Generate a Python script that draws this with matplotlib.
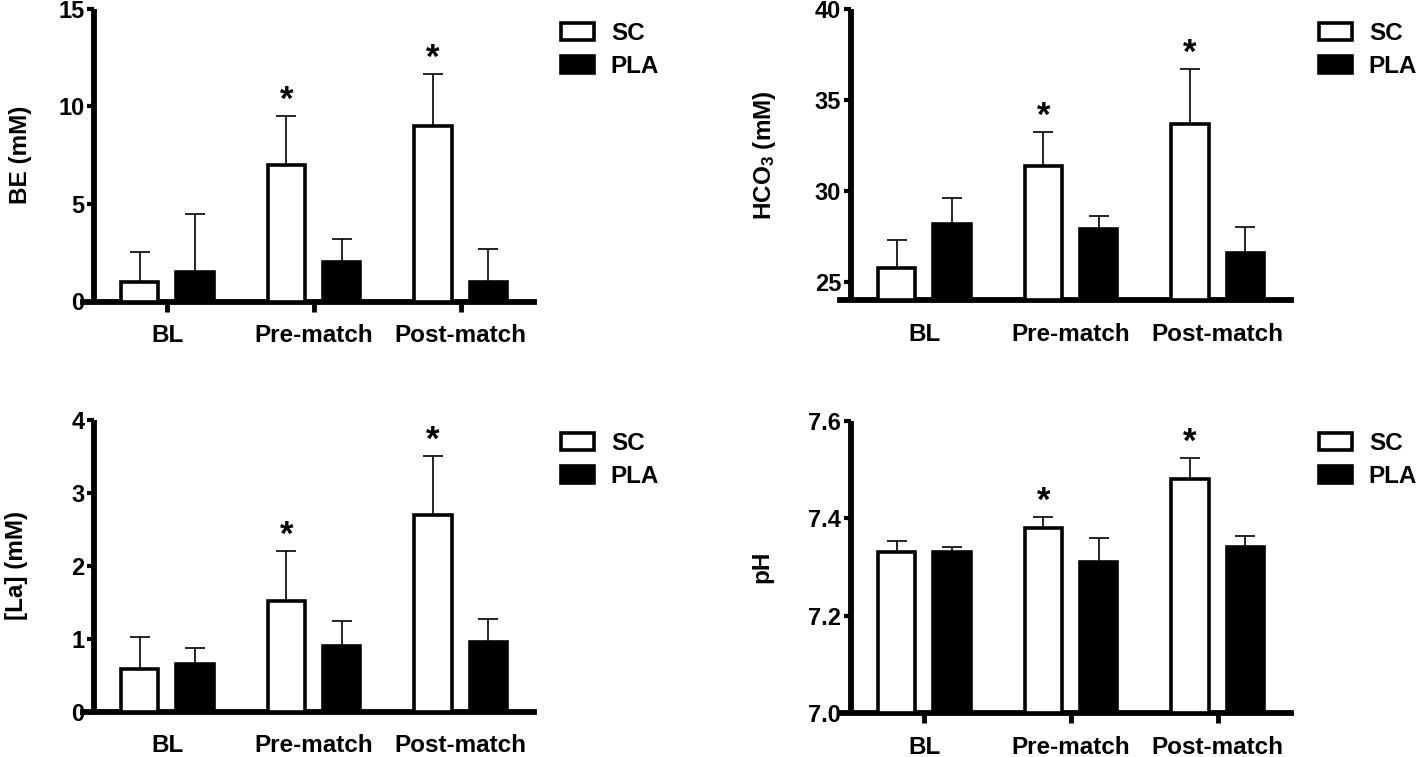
import matplotlib
matplotlib.use("Agg")
import matplotlib.pyplot as plt
import numpy as np

plt.rcParams['font.family'] = ['Liberation Sans', 'DejaVu Sans']
plt.rcParams['font.weight'] = 'bold'
plt.rcParams['mathtext.fontset'] = 'custom'
plt.rcParams['mathtext.rm'] = 'Liberation Sans:bold'
plt.rcParams['mathtext.it'] = 'Liberation Sans:bold'
plt.rcParams['mathtext.bf'] = 'Liberation Sans:bold'
plt.rcParams['mathtext.default'] = 'rm'

categories = ["BL", "Pre-match", "Post-match"]
series_names = ["SC", "PLA"]

# BE (mM)
be_sc = [1.0, 7.0, 9.0]
be_sc_err = [1.55, 2.5, 2.65]
be_pla = [1.5, 2.0, 1.0]
be_pla_err = [3.0, 1.2, 1.7]
be_sig = [False, True, True]

# HCO3 (mM)
hco3_sc = [25.8, 31.4, 33.7]
hco3_sc_err = [1.5, 1.85, 3.0]
hco3_pla = [28.2, 27.9, 26.6]
hco3_pla_err = [1.4, 0.75, 1.45]
hco3_sig = [False, True, True]

# [La] (mM)
la_sc = [0.59, 1.52, 2.7]
la_sc_err = [0.44, 0.68, 0.81]
la_pla = [0.66, 0.9, 0.96]
la_pla_err = [0.22, 0.35, 0.31]
la_sig = [False, True, True]

# pH
ph_sc = [7.33, 7.38, 7.48]
ph_sc_err = [0.023, 0.022, 0.043]
ph_pla = [7.33, 7.31, 7.34]
ph_pla_err = [0.01, 0.05, 0.024]
ph_sig = [False, True, True]

W, H = 1418, 757
fig = plt.figure(figsize=(W / 100, H / 100), dpi=100)

FS = 17.5
TFS = 17
SPINE_LW = 4.2
BAR_W = 0.255
OFF = 0.188
EDGE_LW = 2.6


def px_axes(left, bottom_px, top_px, width):
    return fig.add_axes([left / W, 1 - bottom_px / H, width / W, (bottom_px - top_px) / H])


def panel(ax, sc, sc_err, pla, pla_err, sig, ylim, yticks, ytlabels, ylabel,
          xticks_visible, ylabel_x):
    x = np.arange(len(categories))
    base = ylim[0]
    b1 = ax.bar(x - OFF, np.array(sc) - base, bottom=base, width=BAR_W,
                color='white', edgecolor='black', linewidth=EDGE_LW, zorder=3,
                label=series_names[0])
    b2 = ax.bar(x + OFF, np.array(pla) - base, bottom=base, width=BAR_W,
                color='black', edgecolor='black', linewidth=EDGE_LW, zorder=3,
                label=series_names[1])
    ax.errorbar(x - OFF, sc, yerr=[np.zeros(3), sc_err], fmt='none',
                ecolor='black', elinewidth=1.2, capsize=7, capthick=1.2, zorder=2)
    ax.errorbar(x + OFF, pla, yerr=[np.zeros(3), pla_err], fmt='none',
                ecolor='black', elinewidth=1.2, capsize=7, capthick=1.2, zorder=2)
    for i in range(3):
        if sig[i]:
            ax.annotate('*', xy=(x[i] - OFF, sc[i] + sc_err[i]), xytext=(0, 4.5),
                        textcoords='offset points', ha='center', va='baseline',
                        fontsize=25, fontweight='bold')
    ax.set_xlim(-0.575, 2.5)
    ax.set_ylim(*ylim)
    ax.spines['left'].set_position(('data', -0.5))
    ax.spines['top'].set_visible(False)
    ax.spines['right'].set_visible(False)
    ax.spines['left'].set_linewidth(SPINE_LW)
    ax.spines['bottom'].set_linewidth(SPINE_LW)
    ax.spines['left'].set_capstyle('butt')
    ax.set_yticks(yticks)
    ax.set_yticklabels(ytlabels, fontsize=TFS, fontweight='bold')
    ax.tick_params(axis='y', length=5, width=3, pad=2)
    ax.set_xticks(x)
    ax.set_xticklabels(categories, fontsize=FS, fontweight='bold')
    if xticks_visible:
        ax.tick_params(axis='x', length=7, width=3.5, pad=9)
    else:
        ax.tick_params(axis='x', length=0, pad=16)
    ax.set_ylabel(ylabel, fontsize=FS, fontweight='bold')
    ax.yaxis.set_label_coords(ylabel_x, 0.5)
    ax.patch.set_visible(False)
    return b1, b2


def add_legend(ax, handles, x_px, y_px):
    fig.legend(handles, series_names, loc='upper left',
               bbox_to_anchor=(x_px / W, 1 - y_px / H), frameon=False,
               fontsize=FS, handlelength=1.35, handleheight=0.72,
               handletextpad=0.7, labelspacing=0.42, borderpad=0,
               borderaxespad=0)


ax1 = px_axes(83, 301.5, 8.5, 451)
h = panel(ax1, be_sc, be_sc_err, be_pla, be_pla_err, be_sig, (0, 15), [0, 5, 10, 15],
          ['0', '5', '10', '15'], 'BE (mM)', True, -0.112)
add_legend(ax1, h, 561, 22)

ax2 = px_axes(840, 300.5, 9, 451)
h = panel(ax2, hco3_sc, hco3_sc_err, hco3_pla, hco3_pla_err, hco3_sig, (24, 40),
          [25, 30, 35, 40], ['25', '30', '35', '40'], r'HCO$_3$ (mM)', False, -0.137)
add_legend(ax2, h, 1319, 22)

ax3 = px_axes(83, 711.7, 420, 451)
h = panel(ax3, la_sc, la_sc_err, la_pla, la_pla_err, la_sig, (0, 4), [0, 1, 2, 3, 4],
          ['0', '1', '2', '3', '4'], '[La] (mM)', False, -0.122)
add_legend(ax3, h, 561, 432)

ax4 = px_axes(840, 713.3, 420.7, 451)
h = panel(ax4, ph_sc, ph_sc_err, ph_pla, ph_pla_err, ph_sig, (7.0, 7.6),
          [7.0, 7.2, 7.4, 7.6], ['7.0', '7.2', '7.4', '7.6'], 'pH', True, -0.147)
add_legend(ax4, h, 1319, 432)

fig.savefig('out.png', dpi=100)
